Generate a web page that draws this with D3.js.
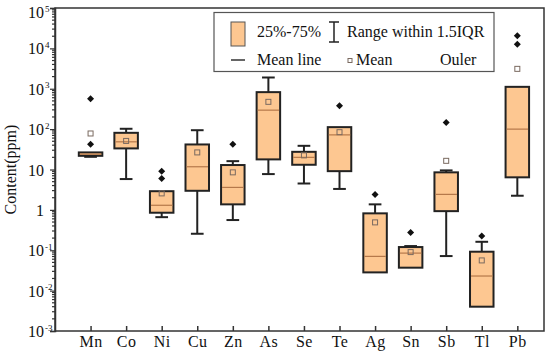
<!DOCTYPE html>
<html lang="en">
<head>
  <meta charset="utf-8">
  <title>Element content box plot</title>
  <script src="https://cdn.jsdelivr.net/npm/d3@7/dist/d3.min.js"></script>
  <style>
    body { margin: 0; background: #fff; }
    svg text { font-family: "Liberation Serif", Tinos, "Times New Roman", Times, "DejaVu Serif", "Noto Serif", FreeSerif, serif; fill: #111; }
  </style>
</head>
<body>
  <svg class="chart" width="550" height="354"></svg>
  <script>
    var width = 550, height = 354;
    var margin = { left: 55, right: 6, top: 8, bottom: 23 };
    var serif = '"Liberation Serif", Tinos, "Times New Roman", Times, "DejaVu Serif", "Noto Serif", FreeSerif, serif';

    // values (ppm)
    var elements = ["Mn", "Co", "Ni", "Cu", "Zn", "As", "Se", "Te", "Ag", "Sn", "Sb", "Tl", "Pb"];
    var whiskerLow  = [20.6, 5.8, 0.66, 0.256, 0.56, 7.7, 4.5, 3.3, 0.0283, 0.037, 0.0718, 0.004, 2.24];
    var q1          = [21.8, 33.3, 0.85, 2.97, 1.37, 17.8, 13.1, 9.1, 0.0283, 0.037, 0.93, 0.004, 6.4];
    var median      = [24.0, 48.5, 1.3, 11.7, 3.6, 295, 20, 72, 0.0705, 0.085, 2.42, 0.023, 100];
    var q3          = [26.5, 81, 2.9, 41.7, 12.9, 824, 27.4, 112, 0.82, 0.12, 8.5, 0.092, 1115];
    var whiskerHigh = [26.5, 102, 2.9, 94, 16.1, 1900, 38.6, 112, 1.37, 0.127, 9.5, 0.162, 1115];
    var means       = [78, 51, 2.56, 26.5, 8.5, 474, 22.4, 84, 0.49, 0.09, 16.4, 0.056, 3110];
    var outliers    = [[562, 42.5], [], [9.1, 6.0], [], [42.5], [], [], [378], [2.42], [0.277], [146], [0.224], [20400, 12700]];
    var yTicks = [1e-3, 1e-2, 1e-1, 1, 10, 1e2, 1e3, 1e4, 1e5];

    var boxFill = "#FDC791", medianColor = "#B5784A", meanColor = "#7a6a60";
    var boxW = 23.5, capW = 12.7;

    var x = d3.scaleLinear()
              .domain([-1, 12.75])
              .range([margin.left, width - margin.right]);

    var y = d3.scaleLog()
              .domain([1e-3, 1e5])
              .range([height - margin.bottom, margin.top]);

    var svg = d3.select("svg.chart").attr("font-family", serif);

    // frame
    svg.append("rect")
       .attr("x", margin.left).attr("y", margin.top)
       .attr("width", width - margin.right - margin.left)
       .attr("height", height - margin.bottom - margin.top)
       .attr("fill", "none").attr("stroke", "#333").attr("stroke-width", 1.5);

    // minor ticks on the log axis
    var minor = [];
    for (var e = -3; e < 5; e++) {
      for (var m = 2; m < 10; m++) minor.push(m * Math.pow(10, e));
    }
    svg.append("g").selectAll("line").data(minor).enter().append("line")
       .attr("x1", margin.left - 3).attr("x2", margin.left)
       .attr("y1", function(d) { return y(d); }).attr("y2", function(d) { return y(d); })
       .attr("stroke", "#333").attr("stroke-width", 1.2);

    var yAxis = svg.append("g")
       .attr("transform", "translate(" + margin.left + ",0)")
       .call(d3.axisLeft(y).tickValues(yTicks).tickSize(5).tickPadding(10)
               .tickFormat(function(d) { return d < 10 && d >= 1 ? "1" : "10"; }))
       .attr("font-family", serif);
    yAxis.select(".domain").attr("stroke", "#333").attr("stroke-width", 1.5);
    yAxis.selectAll(".tick line").attr("stroke", "#333").attr("stroke-width", 1.2);
    yAxis.selectAll(".tick text")
         .attr("font-size", 16).attr("x", -11)
         .attr("y", function(d) { return d >= 1e5 ? 4 : 0; })
         .attr("dy", "0.35em");
    yAxis.selectAll(".tick").each(function(d) {
      var p = Math.round(Math.log10(d));
      if (p === 0 || p === 1) return;
      d3.select(this).append("text")
        .attr("x", -10).attr("y", p === 5 ? 4 : 0).attr("dy", "-0.1em")
        .attr("font-size", 9).attr("text-anchor", "start").attr("fill", "#111")
        .text(p);
    });

    // x ticks inward
    var xAxis = svg.append("g")
       .attr("transform", "translate(0," + (height - margin.bottom) + ")")
       .call(d3.axisBottom(x).tickValues(d3.range(elements.length)).tickSize(-5).tickPadding(5)
               .tickFormat(function(i) { return elements[i]; }))
       .attr("font-family", serif);
    xAxis.select(".domain").remove();
    xAxis.selectAll(".tick line").attr("stroke", "#333").attr("stroke-width", 1.5);
    xAxis.selectAll(".tick text").attr("font-size", 16).attr("letter-spacing", 0.5);

    svg.append("text")
       .attr("transform", "translate(16," + ((margin.top + height - margin.bottom) / 2) + ") rotate(-90)")
       .attr("text-anchor", "middle").attr("font-size", 16)
       .text("Content(ppm)");

    // boxes
    var g = svg.append("g").selectAll("g").data(elements).enter().append("g");

    g.each(function(name, i) {
      var s = d3.select(this), cx = x(i);
      if (whiskerHigh[i] > q3[i]) {
        s.append("line").attr("x1", cx).attr("x2", cx)
         .attr("y1", y(q3[i])).attr("y2", y(whiskerHigh[i]))
         .attr("stroke", "#222").attr("stroke-width", 2);
        s.append("line").attr("x1", cx - capW / 2).attr("x2", cx + capW / 2)
         .attr("y1", y(whiskerHigh[i])).attr("y2", y(whiskerHigh[i]))
         .attr("stroke", "#222").attr("stroke-width", 2);
      }
      if (whiskerLow[i] < q1[i]) {
        s.append("line").attr("x1", cx).attr("x2", cx)
         .attr("y1", y(q1[i])).attr("y2", y(whiskerLow[i]))
         .attr("stroke", "#222").attr("stroke-width", 2);
        s.append("line").attr("x1", cx - capW / 2).attr("x2", cx + capW / 2)
         .attr("y1", y(whiskerLow[i])).attr("y2", y(whiskerLow[i]))
         .attr("stroke", "#222").attr("stroke-width", 2);
      }
      s.append("rect")
       .attr("x", cx - boxW / 2).attr("y", y(q3[i]))
       .attr("width", boxW).attr("height", y(q1[i]) - y(q3[i]))
       .attr("fill", boxFill).attr("stroke", "#222").attr("stroke-width", 2);
      s.append("line").attr("x1", cx - boxW / 2 + 1).attr("x2", cx + boxW / 2 - 1)
       .attr("y1", y(median[i])).attr("y2", y(median[i]))
       .attr("stroke", medianColor).attr("stroke-width", 1.2);
      s.append("rect")
       .attr("x", cx - 2.5).attr("y", y(means[i]) - 2.5)
       .attr("width", 5).attr("height", 5)
       .attr("fill", "none").attr("stroke", meanColor).attr("stroke-width", 1);
      s.selectAll("path.out").data(outliers[i]).enter().append("path")
       .attr("class", "out")
       .attr("d", "M0,-3.5L3.5,0L0,3.5L-3.5,0Z")
       .attr("transform", function(d) { return "translate(" + cx + "," + y(d) + ")"; })
       .attr("fill", "#111");
    });

    // legend
    var lg = svg.append("g");
    lg.append("rect").attr("x", 214).attr("y", 12.5).attr("width", 280).attr("height", 59)
      .attr("fill", "#fff").attr("stroke", "#555").attr("stroke-width", 1.2);
    lg.append("rect").attr("x", 231).attr("y", 22).attr("width", 14).attr("height", 24)
      .attr("fill", boxFill).attr("stroke", "#555").attr("stroke-width", 1);
    lg.append("text").attr("x", 257).attr("y", 37).attr("font-size", 16).text("25%-75%");
    lg.append("line").attr("x1", 334).attr("x2", 334).attr("y1", 22).attr("y2", 42)
      .attr("stroke", "#222").attr("stroke-width", 1.5);
    lg.append("line").attr("x1", 329).attr("x2", 339).attr("y1", 22).attr("y2", 22)
      .attr("stroke", "#222").attr("stroke-width", 1.5);
    lg.append("line").attr("x1", 329).attr("x2", 339).attr("y1", 42).attr("y2", 42)
      .attr("stroke", "#222").attr("stroke-width", 1.5);
    lg.append("text").attr("x", 347).attr("y", 37).attr("font-size", 16).text("Range within 1.5IQR");
    lg.append("line").attr("x1", 231).attr("x2", 245).attr("y1", 60).attr("y2", 60)
      .attr("stroke", "#333").attr("stroke-width", 1.5);
    lg.append("text").attr("x", 257).attr("y", 65).attr("font-size", 16).text("Mean line");
    lg.append("rect").attr("x", 348).attr("y", 58.5).attr("width", 4).attr("height", 4)
      .attr("fill", "none").attr("stroke", meanColor).attr("stroke-width", 1);
    lg.append("text").attr("x", 356).attr("y", 65).attr("font-size", 16).text("Mean");
    lg.append("text").attr("x", 440).attr("y", 65).attr("font-size", 16).text("Ouler");
  </script>
</body>
</html>
